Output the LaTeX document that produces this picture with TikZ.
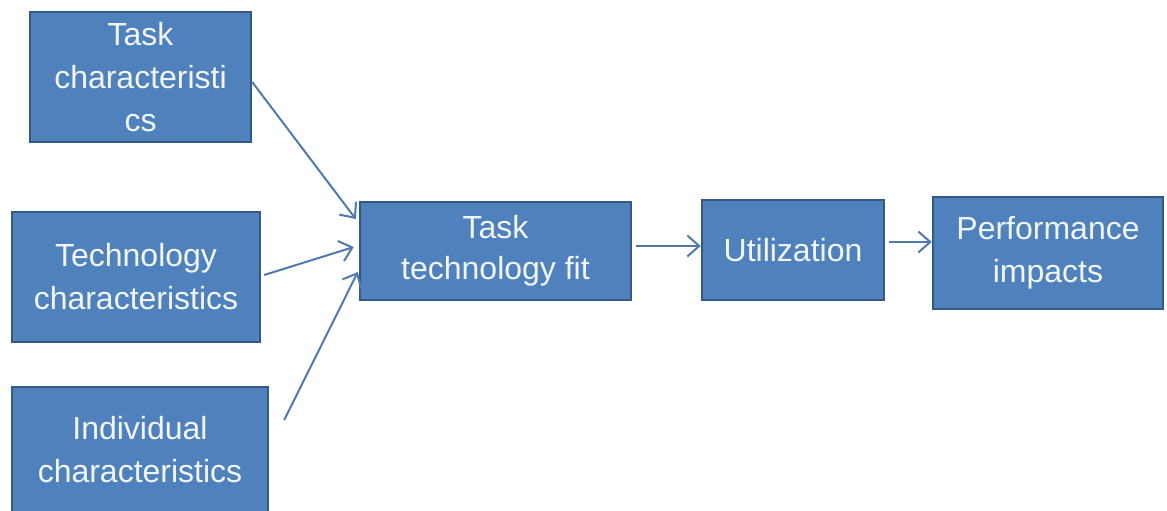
\documentclass[tikz,border=0pt]{standalone}
\usepackage{fontspec}
\setmainfont{Liberation Sans}
\usetikzlibrary{arrows.meta}
\definecolor{boxfill}{HTML}{4F81BD}
\definecolor{boxline}{HTML}{355987}
\definecolor{arrowc}{HTML}{5079AE}
\definecolor{boxtext}{HTML}{F2F6FB}
\tikzset{
  box/.style={draw=boxline, fill=boxfill, line width=2.4pt, inner sep=0pt,
    align=center, text=boxtext, font=\fontsize{32}{43}\selectfont},
  conn/.style={draw=arrowc, line width=2pt, -{Straight Barb[length=12pt,width=21pt,line width=2pt]}}
}
\begin{document}
\begin{tikzpicture}[x=1pt,y=-1pt]
\useasboundingbox (0,0) rectangle (1167,511);
\node[box, minimum width=221pt, minimum height=130pt] (tc) at (140.5,77) {Task\\characteristi\\cs};
\node[box, minimum width=248pt, minimum height=130pt] (tech) at (136,277) {Technology\\characteristics};
\node[box, minimum width=256pt, minimum height=126pt] (ind) at (140,450) {Individual\\characteristics};
\node[box, minimum width=271pt, minimum height=98pt] (ttf) at (495.5,251) {Task\\[-2pt]technology fit};
\node[box, minimum width=182pt, minimum height=100pt] (util) at (793,250) {Utilization};
\node[box, minimum width=230pt, minimum height=112pt] (perf) at (1048,253) {Performance\\impacts};
\draw[conn] ([yshift=-5pt]tc.east) -- ([xshift=-3pt,yshift=32pt]ttf.west);
\draw[conn] ([xshift=3pt,yshift=2pt]tech.east) -- ([xshift=-5pt,yshift=4pt]ttf.west);
\draw[conn] ([xshift=15pt,yshift=30pt]ind.east) -- ([xshift=-1pt,yshift=-21pt]ttf.west);
\draw[conn] ([xshift=4pt,yshift=5pt]ttf.east) -- ([yshift=4pt]util.west);
\draw[conn] ([xshift=4pt,yshift=8pt]util.east) -- ([yshift=11pt]perf.west);
\end{tikzpicture}
\end{document}
